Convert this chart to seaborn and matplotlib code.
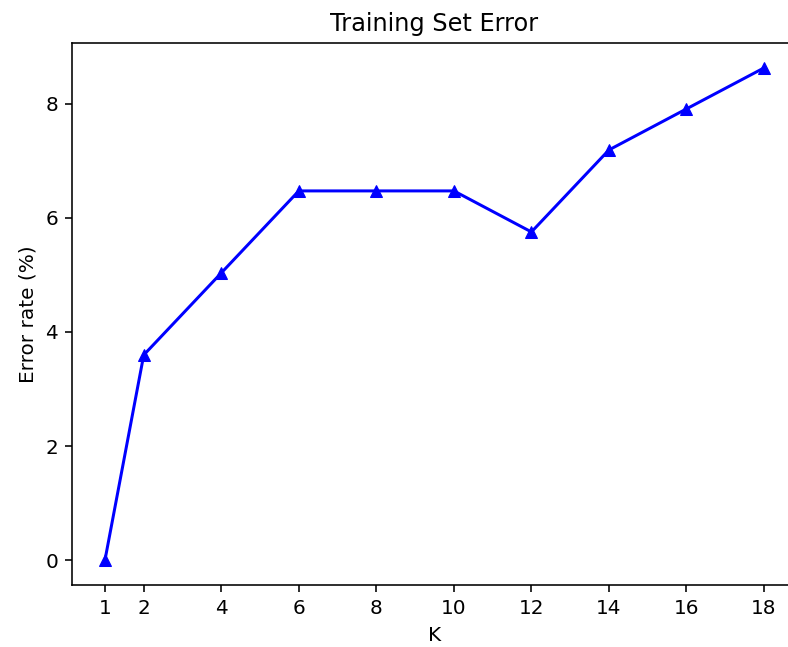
import matplotlib
matplotlib.use("Agg")
import matplotlib.pyplot as plt
import seaborn as sns
import pandas as pd

k_values = [1, 2, 4, 6, 8, 10, 12, 14, 16, 18]
error_rate = [0.0, 3.597, 5.036, 6.475, 6.475, 6.475, 5.755, 7.194, 7.914, 8.633]

df = pd.DataFrame({"K": k_values, "error": error_rate})

# the reference looks like a default figure rendered at ~144 dpi, so scale everything up
scale = 1.44
plt.rcParams.update({
    "font.size": 10 * scale,
    "axes.titlesize": 12 * scale,
    "axes.labelsize": 10 * scale,
    "xtick.labelsize": 10 * scale,
    "ytick.labelsize": 10 * scale,
    "axes.linewidth": 0.8 * scale,
    "xtick.major.size": 3.5 * scale,
    "ytick.major.size": 3.5 * scale,
    "xtick.major.width": 0.8 * scale,
    "ytick.major.width": 0.8 * scale,
    "xtick.major.pad": 3.5 * scale,
    "ytick.major.pad": 3.5 * scale,
    "axes.titlepad": 6 * scale,
    "axes.labelpad": 4 * scale,
})

fig = plt.figure(figsize=(7.88, 6.47), dpi=100)
# right spine falls just outside the cropped image in the reference
ax = fig.add_axes([0.0914, 0.0964, 0.920, 0.8367])
sns.lineplot(data=df, x="K", y="error", color="blue", marker="^",
             markersize=6 * scale, markeredgecolor="blue", linewidth=1.5 * scale, ax=ax)
ax.set_xticks(k_values)
ax.set_xlabel("K")
ax.set_ylabel("Error rate (%)")
ax.set_title("Training Set Error")
fig.savefig("out.png", dpi=100)
